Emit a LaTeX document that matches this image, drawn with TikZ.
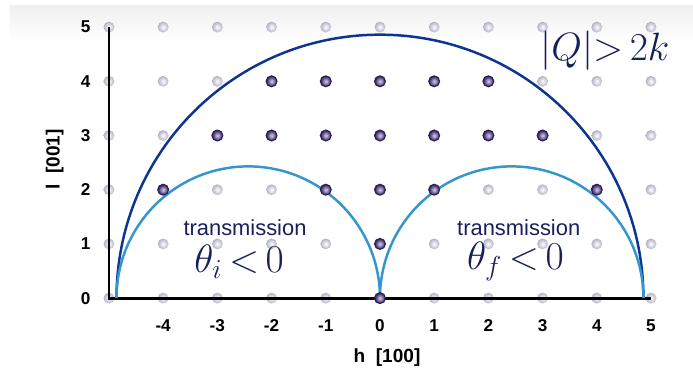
\documentclass[tikz,border=0pt]{standalone}
\usepackage{fontspec}
\setsansfont{Liberation Sans}
\usepackage{amsmath}
\usetikzlibrary{calc}
\definecolor{arcdark}{RGB}{12,52,145}
\definecolor{arclight}{RGB}{52,150,205}
\definecolor{inkblue}{RGB}{24,32,92}
\definecolor{dotdark}{RGB}{45,30,85}
\definecolor{dotlav}{RGB}{215,205,245}
\definecolor{dotgrey}{RGB}{178,178,196}

\begin{document}
\begin{tikzpicture}[x=1cm,y=1cm,font=\sffamily,
  tick/.style={font=\fontsize{9}{10}\selectfont\sffamily\bfseries},
  axlabel/.style={font=\fontsize{10}{12}\selectfont\sffamily\bfseries},
  region/.style={font=\fontsize{11.5}{13}\selectfont\sffamily,text=inkblue},
  cond/.style={font=\fontsize{22}{26}\selectfont,text=inkblue},
  greydot/.style={inner color=white,outer color=dotgrey},
  darkdot/.style={inner color=dotlav,outer color=dotdark,draw=dotdark,line width=0.6pt}]
  \useasboundingbox (-7.01,-1.44) rectangle (5.775,5.50);
  % top band
  \shade[top color=black!6,bottom color=white] (-6.83,5.39) rectangle (5.775,4.72);
  % lattice
  \foreach \h in {-5,...,5} \foreach \l in {0,...,5} { \shade[greydot] (\h,\l) circle (0.1); }
  % axes
  \coordinate (O) at (-5,0);
  \coordinate (Ltop) at (-5,5);
  \coordinate (Hend) at (5,0);
  \draw[line width=1.5pt] (Ltop) -- (O) -- (Hend);
  \foreach \l in {0,...,5} { \node[tick,anchor=east] (ly\l) at (-5.22,\l) {\l}; }
  \foreach \h in {-4,...,5} { \node[tick] (hx\h) at (\h,-0.5) {\h}; }
  \node[axlabel] (hlab) at (0.13,-1.09) {h~~[100]};
  \node[axlabel,rotate=90] (llab) at (-6.0,2.56) {l~~[001]};
  % scattering circles
  \coordinate (Qmin) at (-4.86,0);
  \coordinate (Qmid) at (0,0);
  \draw[arcdark,line width=1.3pt] (Qmin) arc[start angle=180,end angle=0,radius=4.86];
  \draw[arclight,line width=1.3pt] (Qmin) arc[start angle=180,end angle=0,radius=2.43];
  \draw[arclight,line width=1.3pt] (Qmid) arc[start angle=180,end angle=0,radius=2.43];
  % accessible reflections
  \foreach \h/\l in {0/0,0/1,-4/2,-1/2,0/2,1/2,4/2,-3/3,-2/3,-1/3,0/3,1/3,2/3,3/3,-2/4,-1/4,0/4,1/4,2/4} {
    \shade[darkdot] (\h,\l) circle (0.1); }
  % labels
  \node[region] (trl) at (-2.49,1.30) {transmission};
  \node[region] (trr) at (2.56,1.30) {transmission};
  \node[cond] (thi) at (-2.6,0.67) {$\theta_i\,{<}\,0$};
  \node[cond] (thf) at (2.5,0.67) {$\theta_f\,{<}\,0$};
  \node[cond] (qk) at (4.15,4.56) {$\left|Q\right|\!{>}\,2k$};
\end{tikzpicture}
\end{document}
